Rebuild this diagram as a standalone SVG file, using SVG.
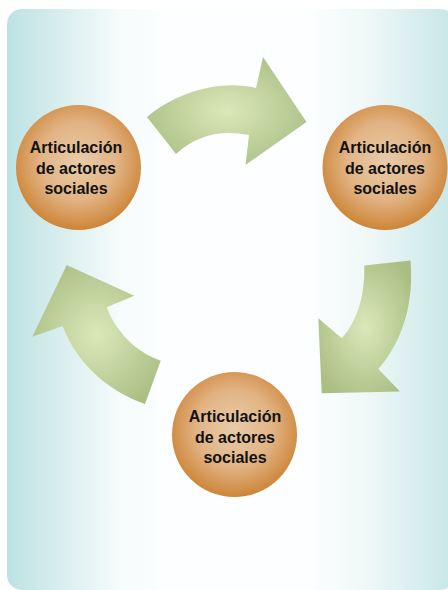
<svg xmlns="http://www.w3.org/2000/svg" width="448" height="590" viewBox="0 0 448 590">
<defs>
<linearGradient id="bg" x1="0" y1="0" x2="1" y2="0">
<stop offset="0" stop-color="#bde2e2"/>
<stop offset="0.25" stop-color="#f6fbfb"/>
<stop offset="0.35" stop-color="#fcfeff"/>
<stop offset="0.68" stop-color="#fcfeff"/>
<stop offset="0.8" stop-color="#f0f8f8"/>
<stop offset="1" stop-color="#c6e6e6"/>
</linearGradient>
<radialGradient id="ball" cx="0.5" cy="0.45" r="0.55">
<stop offset="0" stop-color="#e8cba9"/>
<stop offset="0.55" stop-color="#e2b485"/>
<stop offset="1" stop-color="#cd8538"/>
</radialGradient>
<radialGradient id="arr" cx="0.5" cy="0.5" r="0.6">
<stop offset="0" stop-color="#dbe8ba"/>
<stop offset="1" stop-color="#a9be83"/>
</radialGradient>
<style>
.lbl{font-family:"Liberation Sans",Arial,sans-serif;font-weight:bold;font-size:16px;fill:#111;text-anchor:middle}
.ball{fill:url(#ball)}
.arr{fill:url(#arr)}
</style>
</defs>
<rect x="7" y="9" width="448" height="581" rx="15" fill="url(#bg)"/>
<g id="connectors">
<path class="arr" d="M147,117 C175,93 220,79 256,88 L263,57 L306.5,122 L245.5,165 L249,135 C220,129 195,136 176,154 Z"/>
<path class="arr" d="M364.3,265.5 L410.5,260.5 C414,300 404,340 378.3,369 L400,391.5 L321.7,393.3 L318.3,318.3 L341.7,338.3 C358,320 365,295 364.3,265.5 Z"/>
<path class="arr" d="M160.7,360.7 L145,404 C105,390 75,360 62.7,326 L32.3,336.7 L66.7,265 L134.3,295.7 L106.7,307.3 C115,330 135,352 160.7,360.7 Z"/>
</g>
<g id="node1">
<circle class="ball" cx="78.5" cy="167.5" r="62.5"/>
<text class="lbl" x="76" y="153">Articulación</text>
<text class="lbl" x="76" y="174">de actores</text>
<text class="lbl" x="76" y="194">sociales</text>
</g>
<g id="node2">
<circle class="ball" cx="385" cy="167.5" r="62.5"/>
<text class="lbl" x="385" y="153">Articulación</text>
<text class="lbl" x="385" y="174">de actores</text>
<text class="lbl" x="385" y="194">sociales</text>
</g>
<g id="node3">
<circle class="ball" cx="234.5" cy="434.5" r="62.5"/>
<text class="lbl" x="235" y="422">Articulación</text>
<text class="lbl" x="235" y="443">de actores</text>
<text class="lbl" x="235" y="463">sociales</text>
</g>
</svg>
